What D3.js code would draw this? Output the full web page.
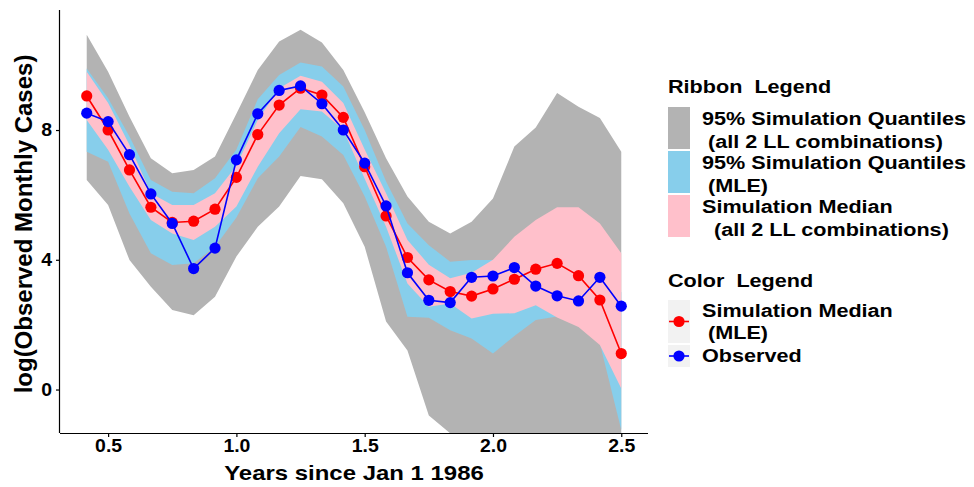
<!DOCTYPE html>
<html>
<head>
<meta charset="utf-8">
<script src="https://cdn.jsdelivr.net/npm/d3@7"></script>
<style>
  html, body { margin: 0; padding: 0; background: #fff; }
  svg { display: block; }
  text { font-family: "Liberation Sans", Arial, Helvetica, sans-serif; font-weight: bold; fill: #000; white-space: pre; }
</style>
</head>
<body>
<svg id="chart" width="974" height="487"></svg>
<script>
// Month offsets (months since Jan 1 1986) of each monthly observation
const months = [5, 6, 7, 8, 9, 10, 11, 12, 13, 14, 15, 16, 17, 18, 19, 20, 21, 22, 23, 24, 25, 26, 27, 28, 29, 30];

// Observed log monthly cases
const observed = [8.52, 8.26, 7.24, 6.03, 5.12, 3.73, 4.36, 7.08, 8.50, 9.22, 9.36, 8.81, 8.00,
                  6.98, 5.66, 3.60, 2.75, 2.68, 3.46, 3.50, 3.76, 3.19, 2.89, 2.73, 3.46, 2.57];

// Simulation median at the MLE
const simMedianMLE = [9.05, 8.00, 6.77, 5.62, 5.15, 5.19, 5.56, 6.54, 7.86, 8.77, 9.29, 9.08, 8.39,
                      6.87, 5.35, 4.07, 3.38, 3.02, 2.88, 3.10, 3.40, 3.71, 3.89, 3.51, 2.76, 1.11];

// 95% simulation quantiles over all 2 LL combinations
const allQLow  = [6.46, 5.69, 3.99, 3.17, 2.45, 2.29, 2.86, 4.10, 5.02, 5.64, 6.58, 6.48, 5.74,
                  4.40, 2.10, 1.20, -0.80, -1.35, -2.60, -2.80, -2.60, -2.50, -2.40, -2.50, -2.60, -2.80];
const allQHigh = [10.94, 9.80, 8.41, 7.13, 6.67, 6.77, 7.18, 8.50, 9.85, 10.73, 11.09, 10.70, 9.85,
                  8.55, 7.13, 5.95, 5.17, 4.81, 5.17, 5.89, 7.49, 8.08, 9.14, 8.72, 8.37, 7.33];

// 95% simulation quantiles at the MLE
const mleQLow  = [7.33, 7.02, 5.43, 4.20, 3.84, 3.89, 4.40, 5.30, 6.51, 7.18, 8.09, 7.80, 7.23,
                  5.95, 4.40, 2.24, 2.21, 1.83, 1.57, 1.11, 1.65, 2.14, 2.25, 1.95, 1.42, -1.25];
const mleQHigh = [9.90, 8.98, 7.80, 6.46, 6.10, 6.05, 6.51, 7.40, 8.95, 9.70, 10.08, 9.96, 9.34,
                  8.00, 6.41, 5.12, 4.45, 3.94, 3.99, 3.99, 4.20, 4.40, 4.50, 4.40, 4.20, 3.00];

// Range of simulation medians over all 2 LL combinations
const medLow  = [8.31, 7.39, 6.25, 5.23, 4.81, 4.61, 5.02, 5.64, 6.87, 7.90, 8.64, 8.57, 8.00,
                 6.50, 5.02, 3.27, 2.55, 2.65, 2.19, 2.34, 2.35, 2.60, 2.22, 1.93, 1.37, 0.03];
const medHigh = [9.80, 8.83, 7.54, 6.05, 5.69, 5.69, 6.05, 6.90, 8.31, 9.29, 9.67, 9.49, 8.83,
                 7.40, 6.05, 4.61, 3.85, 3.43, 3.60, 4.00, 4.71, 5.23, 5.62, 5.62, 5.12, 4.20];

const xTicks = [0.5, 1.0, 1.5, 2.0, 2.5];
const yTicks = [0, 4, 8];

const rows = months.map((m, i) => ({
  year: m / 12,
  obs: observed[i], med: simMedianMLE[i],
  aLo: allQLow[i], aHi: allQHigh[i],
  mLo: mleQLow[i], mHi: mleQHigh[i],
  pLo: medLow[i], pHi: medHigh[i]
}));

const svg = d3.select("#chart");
const panel = { left: 60, right: 648, top: 10, bottom: 433 };

const x = d3.scaleLinear().domain([0.3125, 2.6042]).range([panel.left, panel.right]);
const y = d3.scaleLinear().domain([-1.34, 11.7]).range([panel.bottom, panel.top]);

svg.append("defs").append("clipPath").attr("id", "panel-clip")
  .append("rect")
  .attr("x", panel.left).attr("y", panel.top)
  .attr("width", panel.right - panel.left).attr("height", panel.bottom - panel.top);

const plot = svg.append("g").attr("clip-path", "url(#panel-clip)");

const band = (lo, hi) => d3.area()
  .x(d => x(d.year)).y0(d => y(d[lo])).y1(d => y(d[hi]));

plot.append("path").datum(rows).attr("d", band("aLo", "aHi")).attr("fill", "#B3B3B3");
plot.append("path").datum(rows).attr("d", band("mLo", "mHi")).attr("fill", "#87CEEB");
plot.append("path").datum(rows).attr("d", band("pLo", "pHi")).attr("fill", "#FFC0CB");

const series = [
  { key: "med", color: "#FF0000" },
  { key: "obs", color: "#0000FF" }
];
series.forEach(s => {
  plot.append("path").datum(rows)
    .attr("d", d3.line().x(d => x(d.year)).y(d => y(d[s.key])))
    .attr("fill", "none").attr("stroke", s.color).attr("stroke-width", 1.6);
  plot.selectAll(null).data(rows).enter().append("circle")
    .attr("cx", d => x(d.year)).attr("cy", d => y(d[s.key]))
    .attr("r", 5.6).attr("fill", s.color);
});

// Stretch a text element horizontally to a wider set width
function widenText(sel, factor) {
  sel.each(function () {
    const w = this.getComputedTextLength();
    d3.select(this).attr("textLength", w * factor).attr("lengthAdjust", "spacingAndGlyphs");
  });
}

// Axes
const xAxis = svg.append("g").attr("transform", `translate(0,${panel.bottom})`)
  .call(d3.axisBottom(x).tickValues(xTicks).tickFormat(d3.format(".1f")).tickSize(4).tickPadding(2));
const yAxis = svg.append("g").attr("transform", `translate(${panel.left},0)`)
  .call(d3.axisLeft(y).tickValues(yTicks).tickFormat(d3.format("d")).tickSize(4).tickPadding(4));

[xAxis, yAxis].forEach(g => {
  g.select(".domain").attr("stroke", "#000").attr("stroke-width", 1.2);
  g.selectAll(".tick line").attr("stroke", "#000").attr("stroke-width", 1.2);
  g.selectAll(".tick text").attr("font-size", 18).attr("fill", "#000")
    .attr("font-family", '"Liberation Sans", Arial, sans-serif').attr("font-weight", "bold");
  widenText(g.selectAll(".tick text"), 1.08);
});
xAxis.select(".domain").attr("d", `M${panel.left},0.5H${panel.right}`);
yAxis.select(".domain").attr("d", `M-0.5,${panel.top}V${panel.bottom}`);

const xTitle = svg.append("text")
  .attr("x", (panel.left + panel.right) / 2).attr("y", 480)
  .attr("text-anchor", "middle").attr("font-size", 21)
  .text("Years since Jan 1 1986");
widenText(xTitle, 1.14);

svg.append("text")
  .attr("transform", "translate(32,224) rotate(-90)")
  .attr("text-anchor", "middle").attr("font-size", 24)
  .text("log(Observed Monthly Cases)");

// Legends: compact bold text, widened a little to the legend's set width
const lg = svg.append("g");
const lx = 668, keyW = 22, tx = 702, fs = 18, widen = 1.2;

function legendText(xPos, yPos, t) {
  const node = lg.append("text").attr("x", xPos).attr("y", yPos).attr("font-size", fs).text(t);
  widenText(node, widen);
  return node;
}

legendText(lx, 93, "Ribbon  Legend");

const ribbonKeys = [
  { fill: "#B3B3B3", y: 107, lines: ["95% Simulation Quantiles", " (all 2 LL combinations)"] },
  { fill: "#87CEEB", y: 151, lines: ["95% Simulation Quantiles", " (MLE)"] },
  { fill: "#FFC0CB", y: 195, lines: ["Simulation Median", "  (all 2 LL combinations)"] }
];
ribbonKeys.forEach(k => {
  lg.append("rect").attr("x", lx).attr("y", k.y).attr("width", keyW).attr("height", 42).attr("fill", k.fill);
  k.lines.forEach((t, j) => legendText(tx, k.y + 18 + j * 23, t));
});

legendText(lx, 287, "Color  Legend");

const colorKeys = [
  { color: "#FF0000", y: 300, h: 43, lines: ["Simulation Median", " (MLE)"] },
  { color: "#0000FF", y: 345, h: 22, lines: ["Observed"] }
];
colorKeys.forEach(k => {
  lg.append("rect").attr("x", lx).attr("y", k.y).attr("width", keyW).attr("height", k.h).attr("fill", "#F2F2F2");
  const cy = k.y + k.h / 2;
  lg.append("line").attr("x1", lx + 1).attr("x2", lx + keyW - 1).attr("y1", cy).attr("y2", cy)
    .attr("stroke", k.color).attr("stroke-width", 1.6);
  lg.append("circle").attr("cx", lx + keyW / 2).attr("cy", cy).attr("r", 5.6).attr("fill", k.color);
  k.lines.forEach((t, j) => legendText(tx, k.y + 17 + j * 22, t));
});
</script>
</body>
</html>
